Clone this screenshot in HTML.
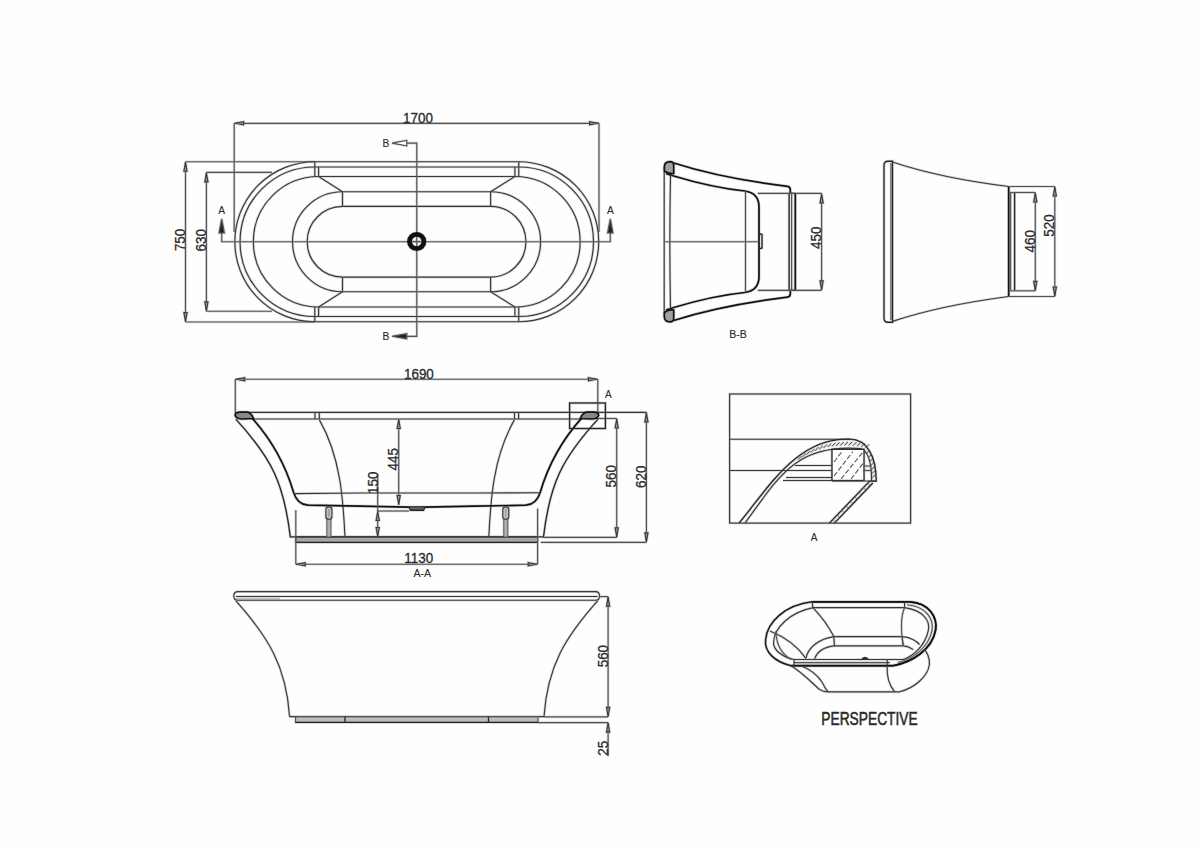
<!DOCTYPE html>
<html><head><meta charset="utf-8">
<style>
html,body{margin:0;padding:0;background:#fff;}
body{width:1200px;height:846px;overflow:hidden;}
svg{display:block;font-family:"Liberation Sans", sans-serif;}
</style></head>
<body>
<svg width="1200" height="846" viewBox="0 0 1200 846">
<rect x="0" y="0" width="1200" height="846" fill="#fefefe"/>
<g>
<line x1="234.20" y1="123.30" x2="599.00" y2="123.30" stroke="#d6d6d6" stroke-width="2.65"/>
<line x1="234.20" y1="123.30" x2="234.20" y2="232.00" stroke="#d6d6d6" stroke-width="2.65"/>
<line x1="599.00" y1="123.30" x2="599.00" y2="232.00" stroke="#d6d6d6" stroke-width="2.65"/>
<path d="M234.60 123.30 L243.60 121.70 L243.60 124.90 Z" fill="#d6d6d6" stroke="#d6d6d6" stroke-width="2.65" />
<path d="M598.60 123.30 L589.60 121.70 L589.60 124.90 Z" fill="#d6d6d6" stroke="#d6d6d6" stroke-width="2.65" />
<line x1="185.50" y1="161.75" x2="314.80" y2="161.75" stroke="#d6d6d6" stroke-width="2.65"/>
<line x1="185.50" y1="322.00" x2="314.80" y2="322.00" stroke="#d6d6d6" stroke-width="2.65"/>
<line x1="185.50" y1="161.75" x2="185.50" y2="322.00" stroke="#d6d6d6" stroke-width="2.65"/>
<path d="M185.50 162.20 L183.90 171.20 L187.10 171.20 Z" fill="#d6d6d6" stroke="#d6d6d6" stroke-width="2.65" />
<path d="M185.50 321.60 L183.90 312.60 L187.10 312.60 Z" fill="#d6d6d6" stroke="#d6d6d6" stroke-width="2.65" />
<line x1="206.40" y1="172.30" x2="272.00" y2="172.30" stroke="#d6d6d6" stroke-width="2.65"/>
<line x1="206.40" y1="311.25" x2="272.00" y2="311.25" stroke="#d6d6d6" stroke-width="2.65"/>
<line x1="206.40" y1="172.30" x2="206.40" y2="311.25" stroke="#d6d6d6" stroke-width="2.65"/>
<path d="M206.40 172.80 L204.80 181.80 L208.00 181.80 Z" fill="#d6d6d6" stroke="#d6d6d6" stroke-width="2.65" />
<path d="M206.40 310.80 L204.80 301.80 L208.00 301.80 Z" fill="#d6d6d6" stroke="#d6d6d6" stroke-width="2.65" />
<path d="M314.8 161.75 L518.75 161.75 A80.0 80.0 0 0 1 518.75 321.75 L314.8 321.75 A80.0 80.0 0 0 1 314.8 161.75 Z" fill="none" stroke="#d6d6d6" stroke-width="2.65" />
<path d="M314.8 167.0 L518.75 167.0 A74.75 74.75 0 0 1 518.75 316.5 L314.8 316.5 A74.75 74.75 0 0 1 314.8 167.0 Z" fill="none" stroke="#d6d6d6" stroke-width="2.65" />
<path d="M318.6 176.5 L514.9 176.5 A65.25 65.25 0 0 1 514.9 307.0 L318.6 307.0 A65.25 65.25 0 0 1 318.6 176.5 Z" fill="none" stroke="#d6d6d6" stroke-width="2.65" />
<line x1="314.80" y1="161.75" x2="314.80" y2="176.50" stroke="#d6d6d6" stroke-width="2.65"/>
<line x1="314.80" y1="321.75" x2="314.80" y2="307.00" stroke="#d6d6d6" stroke-width="2.65"/>
<line x1="518.75" y1="161.75" x2="518.75" y2="176.50" stroke="#d6d6d6" stroke-width="2.65"/>
<line x1="518.75" y1="321.75" x2="518.75" y2="307.00" stroke="#d6d6d6" stroke-width="2.65"/>
<line x1="318.60" y1="167.00" x2="318.60" y2="176.50" stroke="#d6d6d6" stroke-width="2.65"/>
<line x1="318.60" y1="316.50" x2="318.60" y2="307.00" stroke="#d6d6d6" stroke-width="2.65"/>
<line x1="514.90" y1="167.00" x2="514.90" y2="176.50" stroke="#d6d6d6" stroke-width="2.65"/>
<line x1="514.90" y1="316.50" x2="514.90" y2="307.00" stroke="#d6d6d6" stroke-width="2.65"/>
<path d="M318.6 176.5 L342.5 191.75 M318.6 307.0 L342.5 291.75" fill="none" stroke="#d6d6d6" stroke-width="2.65" />
<path d="M514.9 176.5 L490.6 191.75 M514.9 307.0 L490.6 291.75" fill="none" stroke="#d6d6d6" stroke-width="2.65" />
<path d="M342.5 191.75 L490.6 191.75 A50.0 50.0 0 0 1 490.6 291.75 L342.5 291.75 A50.0 50.0 0 0 1 342.5 191.75 Z" fill="none" stroke="#d6d6d6" stroke-width="2.65" />
<path d="M342.5 206.4 L490.6 206.4 A35.35 35.35 0 0 1 490.6 277.1 L342.5 277.1 A35.35 35.35 0 0 1 342.5 206.4 Z" fill="none" stroke="#d6d6d6" stroke-width="2.65" />
<line x1="342.50" y1="191.75" x2="342.50" y2="206.40" stroke="#d6d6d6" stroke-width="2.65"/>
<line x1="342.50" y1="291.75" x2="342.50" y2="277.10" stroke="#d6d6d6" stroke-width="2.65"/>
<line x1="490.60" y1="191.75" x2="490.60" y2="206.40" stroke="#d6d6d6" stroke-width="2.65"/>
<line x1="490.60" y1="291.75" x2="490.60" y2="277.10" stroke="#d6d6d6" stroke-width="2.65"/>
<path d="M221.7 233 L221.7 241.75 L610.3 241.75 L610.3 233" fill="none" stroke="#d6d6d6" stroke-width="2.65" />
<path d="M221.7 218.8 L219.0 233 L224.4 233 Z" fill="#d6d6d6" stroke="#d6d6d6" stroke-width="2.65" />
<path d="M610.3 218.8 L607.6 233 L613.0 233 Z" fill="#d6d6d6" stroke="#d6d6d6" stroke-width="2.65" />
<path d="M406.7 143.1 L416.8 143.1 L416.8 336.3 L406.7 336.3" fill="none" stroke="#d6d6d6" stroke-width="2.65" />
<path d="M392 143.1 L406.7 140.5 L406.7 145.7 Z" fill="#fff" stroke="#d6d6d6" stroke-width="2.65" />
<path d="M392 336.3 L406.7 333.7 L406.7 338.9 Z" fill="#d6d6d6" stroke="#d6d6d6" stroke-width="2.65" />
<circle cx="416.7" cy="241.5" r="7.2" fill="none" stroke="#d6d6d6" stroke-width="6.30"/>
<line x1="413.00" y1="241.50" x2="420.40" y2="241.50" stroke="#d6d6d6" stroke-width="2.65"/>
<path d="M673.7 163 Q721.5 178.3 787.5 186.3 Q790.3 186.7 790.3 190 L790.3 193.4" fill="none" stroke="#d6d6d6" stroke-width="3.20" />
<path d="M673.7 320.5 Q721.5 305.2 787.5 297.2 Q790.3 296.8 790.3 293.5 L790.3 290.3" fill="none" stroke="#d6d6d6" stroke-width="3.20" />
<path d="M666 173.4 Q669 174.5 673.7 176 Q713 187.8 744.8 191 Q759 193 759 207 L759 276.5 Q759 290.5 744.8 292.5 Q713 295.7 673.7 307.5 Q669 309 666 310.1" fill="none" stroke="#d6d6d6" stroke-width="3.20" />
<line x1="664.20" y1="172.00" x2="664.20" y2="312.00" stroke="#d6d6d6" stroke-width="2.65"/>
<path d="M670.5 175 Q669.2 241.75 670.5 308.5" fill="none" stroke="#d6d6d6" stroke-width="2.65" />
<line x1="745.50" y1="191.00" x2="745.50" y2="292.50" stroke="#d6d6d6" stroke-width="2.65"/>
<line x1="664.20" y1="241.75" x2="759.00" y2="241.75" stroke="#d6d6d6" stroke-width="2.65"/>
<path d="M664.3 171 L664.3 167 Q664.5 161.6 670 161.6 Q673.7 161.8 673.7 165 L673.7 173.5 Q668 174 664.3 171 Z" fill="#d6d6d6" stroke="#d6d6d6" stroke-width="3.20" />
<path d="M664.3 312.5 L664.3 316.5 Q664.5 321.9 670 321.9 Q673.7 321.7 673.7 318.5 L673.7 310 Q668 309.5 664.3 312.5 Z" fill="#d6d6d6" stroke="#d6d6d6" stroke-width="3.20" />
<path d="M759 233.5 L762 234.5 L762 248 L759 249" fill="none" stroke="#d6d6d6" stroke-width="2.85" />
<line x1="789.10" y1="193.40" x2="789.10" y2="290.30" stroke="#d6d6d6" stroke-width="2.85"/>
<line x1="791.60" y1="193.40" x2="791.60" y2="290.30" stroke="#d6d6d6" stroke-width="2.65"/>
<line x1="795.30" y1="193.40" x2="795.30" y2="290.30" stroke="#d6d6d6" stroke-width="3.20"/>
<line x1="789.10" y1="193.40" x2="795.30" y2="193.40" stroke="#d6d6d6" stroke-width="2.85"/>
<line x1="789.10" y1="290.30" x2="795.30" y2="290.30" stroke="#d6d6d6" stroke-width="2.85"/>
<line x1="757.70" y1="193.40" x2="821.60" y2="193.40" stroke="#d6d6d6" stroke-width="2.65"/>
<line x1="757.70" y1="290.30" x2="821.60" y2="290.30" stroke="#d6d6d6" stroke-width="2.65"/>
<line x1="821.60" y1="193.40" x2="821.60" y2="290.30" stroke="#d6d6d6" stroke-width="2.65"/>
<path d="M821.60 193.90 L820.00 202.90 L823.20 202.90 Z" fill="#d6d6d6" stroke="#d6d6d6" stroke-width="2.65" />
<path d="M821.60 289.80 L820.00 280.80 L823.20 280.80 Z" fill="#d6d6d6" stroke="#d6d6d6" stroke-width="2.65" />
<path d="M888 161.2 Q884 161.2 884 165.2 L884 318.2 Q884 322.2 888 322.2 L892.5 322.2 L892.5 161.2 Z" fill="none" stroke="#d6d6d6" stroke-width="2.85" />
<line x1="891.00" y1="163.00" x2="891.00" y2="320.00" stroke="#d6d6d6" stroke-width="2.65"/>
<path d="M892.5 162 Q940 178 1008.7 186.5" fill="none" stroke="#d6d6d6" stroke-width="2.65" />
<path d="M892.5 321.4 Q940 305.5 1008.7 296.5" fill="none" stroke="#d6d6d6" stroke-width="2.65" />
<line x1="1008.70" y1="186.50" x2="1008.70" y2="296.50" stroke="#d6d6d6" stroke-width="3.20"/>
<line x1="1010.60" y1="192.50" x2="1010.60" y2="290.80" stroke="#d6d6d6" stroke-width="2.65"/>
<line x1="1014.60" y1="192.50" x2="1014.60" y2="290.80" stroke="#d6d6d6" stroke-width="2.85"/>
<line x1="1008.70" y1="186.50" x2="1054.80" y2="186.50" stroke="#d6d6d6" stroke-width="2.65"/>
<line x1="1008.70" y1="296.50" x2="1054.80" y2="296.50" stroke="#d6d6d6" stroke-width="2.65"/>
<line x1="1054.80" y1="186.50" x2="1054.80" y2="296.50" stroke="#d6d6d6" stroke-width="2.65"/>
<path d="M1054.80 187.00 L1053.20 196.00 L1056.40 196.00 Z" fill="#d6d6d6" stroke="#d6d6d6" stroke-width="2.65" />
<path d="M1054.80 296.00 L1053.20 287.00 L1056.40 287.00 Z" fill="#d6d6d6" stroke="#d6d6d6" stroke-width="2.65" />
<line x1="1010.00" y1="192.50" x2="1035.30" y2="192.50" stroke="#d6d6d6" stroke-width="2.65"/>
<line x1="1010.00" y1="290.80" x2="1035.30" y2="290.80" stroke="#d6d6d6" stroke-width="2.65"/>
<line x1="1035.30" y1="192.50" x2="1035.30" y2="290.80" stroke="#d6d6d6" stroke-width="2.65"/>
<path d="M1035.30 193.00 L1033.70 202.00 L1036.90 202.00 Z" fill="#d6d6d6" stroke="#d6d6d6" stroke-width="2.65" />
<path d="M1035.30 290.30 L1033.70 281.30 L1036.90 281.30 Z" fill="#d6d6d6" stroke="#d6d6d6" stroke-width="2.65" />
<line x1="235.30" y1="379.20" x2="597.80" y2="379.20" stroke="#d6d6d6" stroke-width="2.65"/>
<line x1="235.30" y1="379.20" x2="235.30" y2="413.00" stroke="#d6d6d6" stroke-width="2.65"/>
<line x1="597.80" y1="379.20" x2="597.80" y2="413.00" stroke="#d6d6d6" stroke-width="2.65"/>
<path d="M235.70 379.20 L244.70 377.60 L244.70 380.80 Z" fill="#d6d6d6" stroke="#d6d6d6" stroke-width="2.65" />
<path d="M597.40 379.20 L588.40 377.60 L588.40 380.80 Z" fill="#d6d6d6" stroke="#d6d6d6" stroke-width="2.65" />
<line x1="240.00" y1="412.40" x2="646.40" y2="412.40" stroke="#d6d6d6" stroke-width="2.65"/>
<line x1="252.00" y1="419.00" x2="582.00" y2="419.00" stroke="#d6d6d6" stroke-width="2.65"/>
<line x1="596.00" y1="418.50" x2="616.70" y2="418.50" stroke="#d6d6d6" stroke-width="2.65"/>
<line x1="315.00" y1="412.40" x2="315.00" y2="419.00" stroke="#d6d6d6" stroke-width="2.65"/>
<line x1="319.30" y1="412.40" x2="319.30" y2="419.00" stroke="#d6d6d6" stroke-width="2.65"/>
<line x1="514.50" y1="412.40" x2="514.50" y2="419.00" stroke="#d6d6d6" stroke-width="2.65"/>
<line x1="518.60" y1="412.40" x2="518.60" y2="419.00" stroke="#d6d6d6" stroke-width="2.65"/>
<path d="M319.4 419.9 C340.8 457.2 343.2 500.5 345.0 537.0" fill="none" stroke="#d6d6d6" stroke-width="2.65" />
<path d="M 514.40 419.90 C 493.00 457.20 490.60 500.50 488.80 537.00" fill="none" stroke="#d6d6d6" stroke-width="2.65" />
<path d="M235.8 419.1 C272.1 458.8 284.0 483.6 290.4 537.5" fill="none" stroke="#d6d6d6" stroke-width="2.85" />
<path d="M 598.00 419.10 C 561.70 458.80 549.80 483.60 543.40 537.50" fill="none" stroke="#d6d6d6" stroke-width="2.85" />
<path d="M251.5 417.4 C271.0 438.9 285.5 464.8 293.7 492.7 Q297.5 504.5 308 505.2 L360 506.2 L409 507.2 L425 507.2 L474 506.2 L525.8 505.2 Q536.3 504.5 540.1 492.7 C548.3 464.8 562.8 438.9 582.3 417.4" fill="none" stroke="#d6d6d6" stroke-width="3.20" />
<path d="M293.7 493.6 L360 493.0 L474 493.0 L540.1 492.7" fill="none" stroke="#d6d6d6" stroke-width="2.65" />
<path d="M235.2 415.5 Q235 412.2 240 412.2 L247 412.2 Q251 412.5 253.5 418.5 L242 419 Q236.5 419 235.2 415.5 Z" fill="#d6d6d6" stroke="#d6d6d6" stroke-width="3.20" />
<path d="M598.6 415.5 Q598.8 412.2 593.8 412.2 L586.8 412.2 Q582.8 412.5 580.3 418.5 L591.8 419 Q597.3 419 598.6 415.5 Z" fill="#d6d6d6" stroke="#d6d6d6" stroke-width="3.20" />
<path d="M409 507.2 L410.5 510.2 L423.5 510.2 L425 507.2" fill="#d6d6d6" stroke="#d6d6d6" stroke-width="2.85" />
<line x1="377.70" y1="511.00" x2="409.00" y2="511.00" stroke="#d6d6d6" stroke-width="2.65"/>
<rect x="295.80" y="536.90" width="241.80" height="5.50" rx="0" fill="#d6d6d6" stroke="#d6d6d6" stroke-width="2.65"/>
<line x1="290.40" y1="536.90" x2="543.50" y2="536.90" stroke="#d6d6d6" stroke-width="2.85"/>
<line x1="295.80" y1="542.40" x2="537.60" y2="542.40" stroke="#d6d6d6" stroke-width="2.85"/>
<rect x="326.90" y="519.00" width="4.00" height="18.00" rx="0" fill="#d6d6d6" stroke="#d6d6d6" stroke-width="2.40"/>
<rect x="325.90" y="506.80" width="6.00" height="12.40" rx="2.6" fill="#d6d6d6" stroke="#d6d6d6" stroke-width="2.65"/>
<line x1="328.90" y1="509.00" x2="328.90" y2="517.00" stroke="#d6d6d6" stroke-width="2.90"/>
<rect x="503.80" y="519.00" width="4.00" height="18.00" rx="0" fill="#d6d6d6" stroke="#d6d6d6" stroke-width="2.40"/>
<rect x="502.80" y="506.80" width="6.00" height="12.40" rx="2.6" fill="#d6d6d6" stroke="#d6d6d6" stroke-width="2.65"/>
<line x1="505.80" y1="509.00" x2="505.80" y2="517.00" stroke="#d6d6d6" stroke-width="2.90"/>
<line x1="295.80" y1="510.00" x2="295.80" y2="564.20" stroke="#d6d6d6" stroke-width="2.65"/>
<line x1="537.60" y1="508.60" x2="537.60" y2="564.20" stroke="#d6d6d6" stroke-width="2.65"/>
<line x1="295.80" y1="564.20" x2="537.60" y2="564.20" stroke="#d6d6d6" stroke-width="2.65"/>
<path d="M296.20 564.20 L305.20 562.60 L305.20 565.80 Z" fill="#d6d6d6" stroke="#d6d6d6" stroke-width="2.65" />
<path d="M537.20 564.20 L528.20 562.60 L528.20 565.80 Z" fill="#d6d6d6" stroke="#d6d6d6" stroke-width="2.65" />
<line x1="398.70" y1="419.00" x2="398.70" y2="505.00" stroke="#d6d6d6" stroke-width="2.65"/>
<path d="M398.70 419.50 L397.10 428.50 L400.30 428.50 Z" fill="#d6d6d6" stroke="#d6d6d6" stroke-width="2.65" />
<path d="M398.70 504.50 L397.10 495.50 L400.30 495.50 Z" fill="#d6d6d6" stroke="#d6d6d6" stroke-width="2.65" />
<line x1="377.70" y1="474.00" x2="377.70" y2="537.00" stroke="#d6d6d6" stroke-width="2.65"/>
<path d="M377.70 511.50 L376.10 520.50 L379.30 520.50 Z" fill="#d6d6d6" stroke="#d6d6d6" stroke-width="2.65" />
<path d="M377.70 536.50 L376.10 527.50 L379.30 527.50 Z" fill="#d6d6d6" stroke="#d6d6d6" stroke-width="2.65" />
<line x1="616.70" y1="418.50" x2="616.70" y2="537.40" stroke="#d6d6d6" stroke-width="2.65"/>
<line x1="543.50" y1="537.40" x2="616.70" y2="537.40" stroke="#d6d6d6" stroke-width="2.65"/>
<path d="M616.70 419.00 L615.10 428.00 L618.30 428.00 Z" fill="#d6d6d6" stroke="#d6d6d6" stroke-width="2.65" />
<path d="M616.70 536.90 L615.10 527.90 L618.30 527.90 Z" fill="#d6d6d6" stroke="#d6d6d6" stroke-width="2.65" />
<line x1="646.40" y1="412.40" x2="646.40" y2="542.30" stroke="#d6d6d6" stroke-width="2.65"/>
<line x1="540.80" y1="542.30" x2="646.40" y2="542.30" stroke="#d6d6d6" stroke-width="2.65"/>
<path d="M646.40 412.90 L644.80 421.90 L648.00 421.90 Z" fill="#d6d6d6" stroke="#d6d6d6" stroke-width="2.65" />
<path d="M646.40 541.80 L644.80 532.80 L648.00 532.80 Z" fill="#d6d6d6" stroke="#d6d6d6" stroke-width="2.65" />
<rect x="569.60" y="403.00" width="35.80" height="25.50" rx="0" fill="none" stroke="#d6d6d6" stroke-width="2.85"/>
<path d="M238 591.6 L595.5 591.6 Q599.5 591.6 599.5 595.9 Q599.5 600.2 595.5 600.2 L238 600.2 Q233.8 600.2 233.8 595.9 Q233.8 591.6 238 591.6 Z" fill="none" stroke="#d6d6d6" stroke-width="2.65" />
<line x1="236.00" y1="596.50" x2="597.50" y2="596.50" stroke="#d6d6d6" stroke-width="2.65"/>
<line x1="236.00" y1="599.00" x2="280.00" y2="599.00" stroke="#d6d6d6" stroke-width="2.30"/>
<path d="M235.8 600.7 C268.5 637.4 286.2 666.3 289.6 716.6" fill="none" stroke="#d6d6d6" stroke-width="2.65" />
<path d="M 597.80 600.70 C 565.10 637.40 547.40 666.30 544.00 716.60" fill="none" stroke="#d6d6d6" stroke-width="2.65" />
<line x1="289.60" y1="716.60" x2="544.00" y2="716.60" stroke="#d6d6d6" stroke-width="2.65"/>
<rect x="295.60" y="716.80" width="242.40" height="5.60" rx="0" fill="#d6d6d6" stroke="#d6d6d6" stroke-width="2.65"/>
<line x1="295.60" y1="722.40" x2="538.00" y2="722.40" stroke="#d6d6d6" stroke-width="2.85"/>
<line x1="345.00" y1="716.80" x2="345.00" y2="722.40" stroke="#d6d6d6" stroke-width="2.85"/>
<line x1="488.50" y1="716.80" x2="488.50" y2="722.40" stroke="#d6d6d6" stroke-width="2.85"/>
<line x1="599.50" y1="596.60" x2="608.10" y2="596.60" stroke="#d6d6d6" stroke-width="2.65"/>
<line x1="544.00" y1="716.80" x2="608.10" y2="716.80" stroke="#d6d6d6" stroke-width="2.65"/>
<line x1="608.10" y1="596.60" x2="608.10" y2="716.80" stroke="#d6d6d6" stroke-width="2.65"/>
<path d="M608.10 597.10 L606.50 606.10 L609.70 606.10 Z" fill="#d6d6d6" stroke="#d6d6d6" stroke-width="2.65" />
<path d="M608.10 716.30 L606.50 707.30 L609.70 707.30 Z" fill="#d6d6d6" stroke="#d6d6d6" stroke-width="2.65" />
<line x1="538.00" y1="722.60" x2="608.10" y2="722.60" stroke="#d6d6d6" stroke-width="2.65"/>
<line x1="608.10" y1="722.60" x2="608.10" y2="756.20" stroke="#d6d6d6" stroke-width="2.65"/>
<path d="M608.10 723.10 L606.50 732.10 L609.70 732.10 Z" fill="#d6d6d6" stroke="#d6d6d6" stroke-width="2.65" />
<rect x="729.60" y="394.00" width="181.00" height="129.10" rx="0" fill="none" stroke="#d6d6d6" stroke-width="2.65"/>
<line x1="729.60" y1="439.20" x2="850.00" y2="439.20" stroke="#d6d6d6" stroke-width="2.65"/>
<line x1="729.60" y1="470.50" x2="832.00" y2="470.50" stroke="#d6d6d6" stroke-width="2.65"/>
<path d="M739.0 523.1 C768.4 488.1 796.9 437.2 850.0 439.2 C867 439.6 876.2 456 876.2 481.1 L869.7 481.1" fill="none" stroke="#d6d6d6" stroke-width="2.85" />
<path d="M745.0 523.1 C779.5 475.7 796.6 443.8 860.0 448.5 C867 450 871.6 460 871.6 481.1" fill="none" stroke="#d6d6d6" stroke-width="2.65" />
<line x1="798.20" y1="459.49" x2="801.80" y2="455.89" stroke="#d6d6d6" stroke-width="2.40"/>
<line x1="802.40" y1="456.89" x2="806.00" y2="453.29" stroke="#d6d6d6" stroke-width="2.40"/>
<line x1="806.60" y1="454.53" x2="810.20" y2="450.93" stroke="#d6d6d6" stroke-width="2.40"/>
<line x1="810.80" y1="452.46" x2="814.40" y2="448.86" stroke="#d6d6d6" stroke-width="2.40"/>
<line x1="815.00" y1="450.76" x2="818.60" y2="447.16" stroke="#d6d6d6" stroke-width="2.40"/>
<line x1="819.20" y1="449.28" x2="822.80" y2="445.68" stroke="#d6d6d6" stroke-width="2.40"/>
<line x1="823.40" y1="448.11" x2="827.00" y2="444.51" stroke="#d6d6d6" stroke-width="2.40"/>
<line x1="827.60" y1="447.14" x2="831.20" y2="443.54" stroke="#d6d6d6" stroke-width="2.40"/>
<line x1="831.80" y1="446.40" x2="835.40" y2="442.80" stroke="#d6d6d6" stroke-width="2.40"/>
<line x1="836.00" y1="445.88" x2="839.60" y2="442.28" stroke="#d6d6d6" stroke-width="2.40"/>
<line x1="840.20" y1="445.55" x2="843.80" y2="441.95" stroke="#d6d6d6" stroke-width="2.40"/>
<line x1="844.40" y1="445.40" x2="848.00" y2="441.80" stroke="#d6d6d6" stroke-width="2.40"/>
<line x1="848.60" y1="445.46" x2="852.20" y2="441.86" stroke="#d6d6d6" stroke-width="2.40"/>
<line x1="852.80" y1="445.79" x2="856.40" y2="442.19" stroke="#d6d6d6" stroke-width="2.40"/>
<line x1="857.00" y1="446.17" x2="860.60" y2="442.57" stroke="#d6d6d6" stroke-width="2.40"/>
<line x1="861.20" y1="446.93" x2="864.80" y2="443.33" stroke="#d6d6d6" stroke-width="2.40"/>
<line x1="865.40" y1="448.00" x2="869.00" y2="444.40" stroke="#d6d6d6" stroke-width="2.40"/>
<line x1="865.95" y1="453.80" x2="869.55" y2="450.20" stroke="#d6d6d6" stroke-width="2.40"/>
<line x1="868.13" y1="457.80" x2="871.73" y2="454.20" stroke="#d6d6d6" stroke-width="2.40"/>
<line x1="869.56" y1="461.80" x2="873.16" y2="458.20" stroke="#d6d6d6" stroke-width="2.40"/>
<line x1="870.56" y1="465.80" x2="874.16" y2="462.20" stroke="#d6d6d6" stroke-width="2.40"/>
<line x1="871.26" y1="469.80" x2="874.86" y2="466.20" stroke="#d6d6d6" stroke-width="2.40"/>
<line x1="871.71" y1="473.80" x2="875.31" y2="470.20" stroke="#d6d6d6" stroke-width="2.40"/>
<line x1="871.98" y1="477.80" x2="875.58" y2="474.20" stroke="#d6d6d6" stroke-width="2.40"/>
<rect x="832.00" y="449.30" width="32.00" height="31.20" rx="0" fill="#fff" stroke="#d6d6d6" stroke-width="2.85"/>
<path d="M834 462 L842 451.5" fill="none" stroke="#d6d6d6" stroke-width="2.60" stroke-dasharray="5 2.2"/>
<path d="M834 476 L853 451.5" fill="none" stroke="#d6d6d6" stroke-width="2.60" stroke-dasharray="5 2.2"/>
<path d="M841 479 L863 452" fill="none" stroke="#d6d6d6" stroke-width="2.60" stroke-dasharray="5 2.2"/>
<path d="M851 479 L863 463.5" fill="none" stroke="#d6d6d6" stroke-width="2.60" stroke-dasharray="5 2.2"/>
<line x1="795.00" y1="465.50" x2="832.00" y2="465.50" stroke="#d6d6d6" stroke-width="2.65"/>
<line x1="786.00" y1="477.50" x2="832.00" y2="477.50" stroke="#d6d6d6" stroke-width="2.65"/>
<line x1="783.00" y1="480.50" x2="832.00" y2="480.50" stroke="#d6d6d6" stroke-width="2.65"/>
<line x1="832.00" y1="481.00" x2="876.20" y2="481.00" stroke="#d6d6d6" stroke-width="2.65"/>
<line x1="863.50" y1="466.00" x2="871.60" y2="466.00" stroke="#d6d6d6" stroke-width="2.65"/>
<line x1="863.50" y1="470.50" x2="871.60" y2="470.50" stroke="#d6d6d6" stroke-width="2.65"/>
<path d="M829.4 523.1 L869.7 481.1" fill="none" stroke="#d6d6d6" stroke-width="2.85" />
<path d="M834.4 523.1 L872.8 483" fill="none" stroke="#d6d6d6" stroke-width="2.85" />
<line x1="832.97" y1="519.52" x2="835.37" y2="521.92" stroke="#d6d6d6" stroke-width="2.20"/>
<line x1="837.30" y1="514.97" x2="839.70" y2="517.37" stroke="#d6d6d6" stroke-width="2.20"/>
<line x1="841.63" y1="510.41" x2="844.03" y2="512.81" stroke="#d6d6d6" stroke-width="2.20"/>
<line x1="845.97" y1="505.86" x2="848.37" y2="508.26" stroke="#d6d6d6" stroke-width="2.20"/>
<line x1="850.30" y1="501.30" x2="852.70" y2="503.70" stroke="#d6d6d6" stroke-width="2.20"/>
<line x1="854.63" y1="496.74" x2="857.03" y2="499.14" stroke="#d6d6d6" stroke-width="2.20"/>
<line x1="858.97" y1="492.19" x2="861.37" y2="494.59" stroke="#d6d6d6" stroke-width="2.20"/>
<line x1="863.30" y1="487.63" x2="865.70" y2="490.03" stroke="#d6d6d6" stroke-width="2.20"/>
<line x1="867.63" y1="483.08" x2="870.03" y2="485.48" stroke="#d6d6d6" stroke-width="2.20"/>
<path d="M812.1 601.8 L909.6 601.8 C930 603 937.5 618 935.6 630 C932 650 912 662 893.4 665.7 L791 665.7 C775 662 764 652 765.6 639.7 C767 622 785 605 812.1 601.8 Z" fill="none" stroke="#d6d6d6" stroke-width="3.05" />
<path d="M813.3 607.6 L904.6 607.6 C922 610 931 620 928.2 631 C925 645 915 655 903.3 659.5 L794 659.5 C782 657 773 650 773.6 642 C774 628 790 612 813.3 607.6 Z" fill="none" stroke="#d6d6d6" stroke-width="2.65" />
<line x1="794.00" y1="662.60" x2="890.00" y2="662.60" stroke="#d6d6d6" stroke-width="2.65"/>
<line x1="812.10" y1="601.80" x2="909.60" y2="601.80" stroke="#d6d6d6" stroke-width="3.20"/>
<line x1="791.00" y1="665.70" x2="893.40" y2="665.70" stroke="#d6d6d6" stroke-width="3.20"/>
<path d="M909.6 601.8 C930 603 937.5 618 935.6 630 C932 650 912 662 893.4 665.7" fill="none" stroke="#d6d6d6" stroke-width="3.20" />
<path d="M907 604.8 C926 606.5 934 619 932 630.5 C928.5 647.5 913.5 658.5 898 662.6" fill="none" stroke="#d6d6d6" stroke-width="2.65" />
<line x1="794.10" y1="659.50" x2="794.10" y2="665.70" stroke="#d6d6d6" stroke-width="2.65"/>
<line x1="887.20" y1="659.50" x2="887.20" y2="665.70" stroke="#d6d6d6" stroke-width="2.65"/>
<line x1="812.10" y1="601.80" x2="812.90" y2="607.60" stroke="#d6d6d6" stroke-width="2.65"/>
<line x1="904.60" y1="601.80" x2="904.60" y2="607.60" stroke="#d6d6d6" stroke-width="2.65"/>
<path d="M805.9 658.3 C808 648 818 639 833.8 636.6 L902.1 636.6 C910 637 917 641 919.5 644.6" fill="none" stroke="#d6d6d6" stroke-width="2.65" />
<path d="M814.6 658.9 C817 652 824 647 834.4 645.9 L903.3 645.9 C907 646 911 648 913.3 649.6" fill="none" stroke="#d6d6d6" stroke-width="2.65" />
<line x1="833.80" y1="636.60" x2="834.40" y2="645.90" stroke="#d6d6d6" stroke-width="2.65"/>
<line x1="902.10" y1="636.60" x2="903.30" y2="645.90" stroke="#d6d6d6" stroke-width="2.65"/>
<path d="M812.9 607.6 C820 615 828 625 833.8 636.6" fill="none" stroke="#d6d6d6" stroke-width="2.65" />
<path d="M904.6 607.6 C900 618 901 632 903.3 645.9" fill="none" stroke="#d6d6d6" stroke-width="2.65" />
<path d="M769.9 631 C785 637 798 647 805.9 658.3" fill="none" stroke="#d6d6d6" stroke-width="2.65" />
<path d="M776 631 C776 645 782 654 791 659.5" fill="none" stroke="#d6d6d6" stroke-width="2.65" />
<path d="M791 665.7 C803 673 812 683 819.6 689.5 C822 691.2 825 691.8 828.2 691.8 L899.6 691.8 C915 688 928 676 929.4 664.5 C929.8 658 927 652 924.4 649.6" fill="none" stroke="#d6d6d6" stroke-width="2.65" />
<path d="M801 665.7 C812 670 818 676 822 682 C824 686 826 690 828.2 691.8" fill="none" stroke="#d6d6d6" stroke-width="2.65" />
<path d="M887.2 665.7 C886.5 676 889 685 894.7 691.8" fill="none" stroke="#d6d6d6" stroke-width="2.65" />
<path d="M862.5 658.8 Q865 656.5 867.5 658.8 Z" fill="#d6d6d6" stroke="#d6d6d6" stroke-width="2.85" />
</g>
<g>
<line x1="234.20" y1="123.30" x2="599.00" y2="123.30" stroke="#545454" stroke-width="1.15"/>
<line x1="234.20" y1="123.30" x2="234.20" y2="232.00" stroke="#545454" stroke-width="1.15"/>
<line x1="599.00" y1="123.30" x2="599.00" y2="232.00" stroke="#545454" stroke-width="1.15"/>
<path d="M234.60 123.30 L243.60 121.70 L243.60 124.90 Z" fill="#9a9a9a" stroke="#3a3a3a" stroke-width="1.15" />
<path d="M598.60 123.30 L589.60 121.70 L589.60 124.90 Z" fill="#9a9a9a" stroke="#3a3a3a" stroke-width="1.15" />
<text x="418" y="123.01" font-size="14.0" text-anchor="middle" fill="#2a2a2a" stroke="#2a2a2a" stroke-width="0.3" font-weight="normal" transform="translate(418 0) scale(0.96 1) translate(-418 0)">1700</text>
<line x1="185.50" y1="161.75" x2="314.80" y2="161.75" stroke="#545454" stroke-width="1.15"/>
<line x1="185.50" y1="322.00" x2="314.80" y2="322.00" stroke="#545454" stroke-width="1.15"/>
<line x1="185.50" y1="161.75" x2="185.50" y2="322.00" stroke="#545454" stroke-width="1.15"/>
<path d="M185.50 162.20 L183.90 171.20 L187.10 171.20 Z" fill="#9a9a9a" stroke="#3a3a3a" stroke-width="1.15" />
<path d="M185.50 321.60 L183.90 312.60 L187.10 312.60 Z" fill="#9a9a9a" stroke="#3a3a3a" stroke-width="1.15" />
<text x="180.5" y="244.91" font-size="14.0" text-anchor="middle" fill="#2a2a2a" stroke="#2a2a2a" stroke-width="0.3" font-weight="normal" transform="rotate(-90 180.5 239.9) translate(180.5 0) scale(0.96 1) translate(-180.5 0)">750</text>
<line x1="206.40" y1="172.30" x2="272.00" y2="172.30" stroke="#545454" stroke-width="1.15"/>
<line x1="206.40" y1="311.25" x2="272.00" y2="311.25" stroke="#545454" stroke-width="1.15"/>
<line x1="206.40" y1="172.30" x2="206.40" y2="311.25" stroke="#545454" stroke-width="1.15"/>
<path d="M206.40 172.80 L204.80 181.80 L208.00 181.80 Z" fill="#9a9a9a" stroke="#3a3a3a" stroke-width="1.15" />
<path d="M206.40 310.80 L204.80 301.80 L208.00 301.80 Z" fill="#9a9a9a" stroke="#3a3a3a" stroke-width="1.15" />
<text x="201.1" y="245.31" font-size="14.0" text-anchor="middle" fill="#2a2a2a" stroke="#2a2a2a" stroke-width="0.3" font-weight="normal" transform="rotate(-90 201.1 240.3) translate(201.1 0) scale(0.96 1) translate(-201.1 0)">630</text>
<path d="M314.8 161.75 L518.75 161.75 A80.0 80.0 0 0 1 518.75 321.75 L314.8 321.75 A80.0 80.0 0 0 1 314.8 161.75 Z" fill="none" stroke="#3a3a3a" stroke-width="1.15" />
<path d="M314.8 167.0 L518.75 167.0 A74.75 74.75 0 0 1 518.75 316.5 L314.8 316.5 A74.75 74.75 0 0 1 314.8 167.0 Z" fill="none" stroke="#3a3a3a" stroke-width="1.15" />
<path d="M318.6 176.5 L514.9 176.5 A65.25 65.25 0 0 1 514.9 307.0 L318.6 307.0 A65.25 65.25 0 0 1 318.6 176.5 Z" fill="none" stroke="#3a3a3a" stroke-width="1.15" />
<line x1="314.80" y1="161.75" x2="314.80" y2="176.50" stroke="#3a3a3a" stroke-width="1.15"/>
<line x1="314.80" y1="321.75" x2="314.80" y2="307.00" stroke="#3a3a3a" stroke-width="1.15"/>
<line x1="518.75" y1="161.75" x2="518.75" y2="176.50" stroke="#3a3a3a" stroke-width="1.15"/>
<line x1="518.75" y1="321.75" x2="518.75" y2="307.00" stroke="#3a3a3a" stroke-width="1.15"/>
<line x1="318.60" y1="167.00" x2="318.60" y2="176.50" stroke="#3a3a3a" stroke-width="1.15"/>
<line x1="318.60" y1="316.50" x2="318.60" y2="307.00" stroke="#3a3a3a" stroke-width="1.15"/>
<line x1="514.90" y1="167.00" x2="514.90" y2="176.50" stroke="#3a3a3a" stroke-width="1.15"/>
<line x1="514.90" y1="316.50" x2="514.90" y2="307.00" stroke="#3a3a3a" stroke-width="1.15"/>
<path d="M318.6 176.5 L342.5 191.75 M318.6 307.0 L342.5 291.75" fill="none" stroke="#3a3a3a" stroke-width="1.15" />
<path d="M514.9 176.5 L490.6 191.75 M514.9 307.0 L490.6 291.75" fill="none" stroke="#3a3a3a" stroke-width="1.15" />
<path d="M342.5 191.75 L490.6 191.75 A50.0 50.0 0 0 1 490.6 291.75 L342.5 291.75 A50.0 50.0 0 0 1 342.5 191.75 Z" fill="none" stroke="#3a3a3a" stroke-width="1.15" />
<path d="M342.5 206.4 L490.6 206.4 A35.35 35.35 0 0 1 490.6 277.1 L342.5 277.1 A35.35 35.35 0 0 1 342.5 206.4 Z" fill="none" stroke="#3a3a3a" stroke-width="1.15" />
<line x1="342.50" y1="191.75" x2="342.50" y2="206.40" stroke="#3a3a3a" stroke-width="1.15"/>
<line x1="342.50" y1="291.75" x2="342.50" y2="277.10" stroke="#3a3a3a" stroke-width="1.15"/>
<line x1="490.60" y1="191.75" x2="490.60" y2="206.40" stroke="#3a3a3a" stroke-width="1.15"/>
<line x1="490.60" y1="291.75" x2="490.60" y2="277.10" stroke="#3a3a3a" stroke-width="1.15"/>
<path d="M221.7 233 L221.7 241.75 L610.3 241.75 L610.3 233" fill="none" stroke="#545454" stroke-width="1.15" />
<path d="M221.7 218.8 L219.0 233 L224.4 233 Z" fill="#222" stroke="#545454" stroke-width="1.15" />
<path d="M610.3 218.8 L607.6 233 L613.0 233 Z" fill="#222" stroke="#545454" stroke-width="1.15" />
<text x="221.7" y="214.35" font-size="10.2" text-anchor="middle" fill="#2a2a2a" stroke="#2a2a2a" stroke-width="0.12" font-weight="normal">A</text>
<text x="610.3" y="214.35" font-size="10.2" text-anchor="middle" fill="#2a2a2a" stroke="#2a2a2a" stroke-width="0.12" font-weight="normal">A</text>
<path d="M406.7 143.1 L416.8 143.1 L416.8 336.3 L406.7 336.3" fill="none" stroke="#545454" stroke-width="1.15" />
<path d="M392 143.1 L406.7 140.5 L406.7 145.7 Z" fill="#fff" stroke="#545454" stroke-width="1.15" />
<path d="M392 336.3 L406.7 333.7 L406.7 338.9 Z" fill="#222" stroke="#545454" stroke-width="1.15" />
<text x="385.9" y="146.75" font-size="10.2" text-anchor="middle" fill="#2a2a2a" stroke="#2a2a2a" stroke-width="0.12" font-weight="normal">B</text>
<text x="385.9" y="339.95" font-size="10.2" text-anchor="middle" fill="#2a2a2a" stroke="#2a2a2a" stroke-width="0.12" font-weight="normal">B</text>
<circle cx="416.7" cy="241.5" r="7.2" fill="none" stroke="#111" stroke-width="4.80"/>
<line x1="413.00" y1="241.50" x2="420.40" y2="241.50" stroke="#545454" stroke-width="1.15"/>
<path d="M673.7 163 Q721.5 178.3 787.5 186.3 Q790.3 186.7 790.3 190 L790.3 193.4" fill="none" stroke="#121212" stroke-width="1.70" />
<path d="M673.7 320.5 Q721.5 305.2 787.5 297.2 Q790.3 296.8 790.3 293.5 L790.3 290.3" fill="none" stroke="#121212" stroke-width="1.70" />
<path d="M666 173.4 Q669 174.5 673.7 176 Q713 187.8 744.8 191 Q759 193 759 207 L759 276.5 Q759 290.5 744.8 292.5 Q713 295.7 673.7 307.5 Q669 309 666 310.1" fill="none" stroke="#121212" stroke-width="1.70" />
<line x1="664.20" y1="172.00" x2="664.20" y2="312.00" stroke="#3a3a3a" stroke-width="1.15"/>
<path d="M670.5 175 Q669.2 241.75 670.5 308.5" fill="none" stroke="#3a3a3a" stroke-width="1.15" />
<line x1="745.50" y1="191.00" x2="745.50" y2="292.50" stroke="#545454" stroke-width="1.15"/>
<line x1="664.20" y1="241.75" x2="759.00" y2="241.75" stroke="#545454" stroke-width="1.15"/>
<path d="M664.3 171 L664.3 167 Q664.5 161.6 670 161.6 Q673.7 161.8 673.7 165 L673.7 173.5 Q668 174 664.3 171 Z" fill="#a0a0a0" stroke="#121212" stroke-width="1.70" />
<path d="M664.3 312.5 L664.3 316.5 Q664.5 321.9 670 321.9 Q673.7 321.7 673.7 318.5 L673.7 310 Q668 309.5 664.3 312.5 Z" fill="#a0a0a0" stroke="#121212" stroke-width="1.70" />
<path d="M759 233.5 L762 234.5 L762 248 L759 249" fill="none" stroke="#282828" stroke-width="1.35" />
<line x1="789.10" y1="193.40" x2="789.10" y2="290.30" stroke="#282828" stroke-width="1.35"/>
<line x1="791.60" y1="193.40" x2="791.60" y2="290.30" stroke="#545454" stroke-width="1.15"/>
<line x1="795.30" y1="193.40" x2="795.30" y2="290.30" stroke="#121212" stroke-width="1.70"/>
<line x1="789.10" y1="193.40" x2="795.30" y2="193.40" stroke="#282828" stroke-width="1.35"/>
<line x1="789.10" y1="290.30" x2="795.30" y2="290.30" stroke="#282828" stroke-width="1.35"/>
<line x1="757.70" y1="193.40" x2="821.60" y2="193.40" stroke="#545454" stroke-width="1.15"/>
<line x1="757.70" y1="290.30" x2="821.60" y2="290.30" stroke="#545454" stroke-width="1.15"/>
<line x1="821.60" y1="193.40" x2="821.60" y2="290.30" stroke="#545454" stroke-width="1.15"/>
<path d="M821.60 193.90 L820.00 202.90 L823.20 202.90 Z" fill="#9a9a9a" stroke="#3a3a3a" stroke-width="1.15" />
<path d="M821.60 289.80 L820.00 280.80 L823.20 280.80 Z" fill="#9a9a9a" stroke="#3a3a3a" stroke-width="1.15" />
<text x="815.7" y="242.81" font-size="14.0" text-anchor="middle" fill="#2a2a2a" stroke="#2a2a2a" stroke-width="0.3" font-weight="normal" transform="rotate(-90 815.7 237.8) translate(815.7 0) scale(0.96 1) translate(-815.7 0)">450</text>
<text x="738" y="337.76" font-size="10.5" text-anchor="middle" fill="#2a2a2a" stroke="#2a2a2a" stroke-width="0.12" font-weight="normal">B-B</text>
<path d="M888 161.2 Q884 161.2 884 165.2 L884 318.2 Q884 322.2 888 322.2 L892.5 322.2 L892.5 161.2 Z" fill="none" stroke="#282828" stroke-width="1.35" />
<line x1="891.00" y1="163.00" x2="891.00" y2="320.00" stroke="#545454" stroke-width="1.15"/>
<path d="M892.5 162 Q940 178 1008.7 186.5" fill="none" stroke="#3a3a3a" stroke-width="1.15" />
<path d="M892.5 321.4 Q940 305.5 1008.7 296.5" fill="none" stroke="#3a3a3a" stroke-width="1.15" />
<line x1="1008.70" y1="186.50" x2="1008.70" y2="296.50" stroke="#121212" stroke-width="1.70"/>
<line x1="1010.60" y1="192.50" x2="1010.60" y2="290.80" stroke="#545454" stroke-width="1.15"/>
<line x1="1014.60" y1="192.50" x2="1014.60" y2="290.80" stroke="#282828" stroke-width="1.35"/>
<line x1="1008.70" y1="186.50" x2="1054.80" y2="186.50" stroke="#545454" stroke-width="1.15"/>
<line x1="1008.70" y1="296.50" x2="1054.80" y2="296.50" stroke="#545454" stroke-width="1.15"/>
<line x1="1054.80" y1="186.50" x2="1054.80" y2="296.50" stroke="#545454" stroke-width="1.15"/>
<path d="M1054.80 187.00 L1053.20 196.00 L1056.40 196.00 Z" fill="#9a9a9a" stroke="#3a3a3a" stroke-width="1.15" />
<path d="M1054.80 296.00 L1053.20 287.00 L1056.40 287.00 Z" fill="#9a9a9a" stroke="#3a3a3a" stroke-width="1.15" />
<text x="1049.0" y="230.51" font-size="14.0" text-anchor="middle" fill="#2a2a2a" stroke="#2a2a2a" stroke-width="0.3" font-weight="normal" transform="rotate(-90 1049.0 225.5) translate(1049.0 0) scale(0.96 1) translate(-1049.0 0)">520</text>
<line x1="1010.00" y1="192.50" x2="1035.30" y2="192.50" stroke="#545454" stroke-width="1.15"/>
<line x1="1010.00" y1="290.80" x2="1035.30" y2="290.80" stroke="#545454" stroke-width="1.15"/>
<line x1="1035.30" y1="192.50" x2="1035.30" y2="290.80" stroke="#545454" stroke-width="1.15"/>
<path d="M1035.30 193.00 L1033.70 202.00 L1036.90 202.00 Z" fill="#9a9a9a" stroke="#3a3a3a" stroke-width="1.15" />
<path d="M1035.30 290.30 L1033.70 281.30 L1036.90 281.30 Z" fill="#9a9a9a" stroke="#3a3a3a" stroke-width="1.15" />
<text x="1029.5" y="246.21" font-size="14.0" text-anchor="middle" fill="#2a2a2a" stroke="#2a2a2a" stroke-width="0.3" font-weight="normal" transform="rotate(-90 1029.5 241.2) translate(1029.5 0) scale(0.96 1) translate(-1029.5 0)">460</text>
<line x1="235.30" y1="379.20" x2="597.80" y2="379.20" stroke="#545454" stroke-width="1.15"/>
<line x1="235.30" y1="379.20" x2="235.30" y2="413.00" stroke="#545454" stroke-width="1.15"/>
<line x1="597.80" y1="379.20" x2="597.80" y2="413.00" stroke="#545454" stroke-width="1.15"/>
<path d="M235.70 379.20 L244.70 377.60 L244.70 380.80 Z" fill="#9a9a9a" stroke="#3a3a3a" stroke-width="1.15" />
<path d="M597.40 379.20 L588.40 377.60 L588.40 380.80 Z" fill="#9a9a9a" stroke="#3a3a3a" stroke-width="1.15" />
<text x="418.9" y="379.41" font-size="14.0" text-anchor="middle" fill="#2a2a2a" stroke="#2a2a2a" stroke-width="0.3" font-weight="normal" transform="translate(418.9 0) scale(0.96 1) translate(-418.9 0)">1690</text>
<line x1="240.00" y1="412.40" x2="646.40" y2="412.40" stroke="#3a3a3a" stroke-width="1.15"/>
<line x1="252.00" y1="419.00" x2="582.00" y2="419.00" stroke="#3a3a3a" stroke-width="1.15"/>
<line x1="596.00" y1="418.50" x2="616.70" y2="418.50" stroke="#545454" stroke-width="1.15"/>
<line x1="315.00" y1="412.40" x2="315.00" y2="419.00" stroke="#3a3a3a" stroke-width="1.15"/>
<line x1="319.30" y1="412.40" x2="319.30" y2="419.00" stroke="#3a3a3a" stroke-width="1.15"/>
<line x1="514.50" y1="412.40" x2="514.50" y2="419.00" stroke="#3a3a3a" stroke-width="1.15"/>
<line x1="518.60" y1="412.40" x2="518.60" y2="419.00" stroke="#3a3a3a" stroke-width="1.15"/>
<path d="M319.4 419.9 C340.8 457.2 343.2 500.5 345.0 537.0" fill="none" stroke="#3a3a3a" stroke-width="1.15" />
<path d="M 514.40 419.90 C 493.00 457.20 490.60 500.50 488.80 537.00" fill="none" stroke="#3a3a3a" stroke-width="1.15" />
<path d="M235.8 419.1 C272.1 458.8 284.0 483.6 290.4 537.5" fill="none" stroke="#282828" stroke-width="1.35" />
<path d="M 598.00 419.10 C 561.70 458.80 549.80 483.60 543.40 537.50" fill="none" stroke="#282828" stroke-width="1.35" />
<path d="M251.5 417.4 C271.0 438.9 285.5 464.8 293.7 492.7 Q297.5 504.5 308 505.2 L360 506.2 L409 507.2 L425 507.2 L474 506.2 L525.8 505.2 Q536.3 504.5 540.1 492.7 C548.3 464.8 562.8 438.9 582.3 417.4" fill="none" stroke="#121212" stroke-width="1.70" />
<path d="M293.7 493.6 L360 493.0 L474 493.0 L540.1 492.7" fill="none" stroke="#3a3a3a" stroke-width="1.15" />
<path d="M235.2 415.5 Q235 412.2 240 412.2 L247 412.2 Q251 412.5 253.5 418.5 L242 419 Q236.5 419 235.2 415.5 Z" fill="#888" stroke="#121212" stroke-width="1.70" />
<path d="M598.6 415.5 Q598.8 412.2 593.8 412.2 L586.8 412.2 Q582.8 412.5 580.3 418.5 L591.8 419 Q597.3 419 598.6 415.5 Z" fill="#888" stroke="#121212" stroke-width="1.70" />
<path d="M409 507.2 L410.5 510.2 L423.5 510.2 L425 507.2" fill="#666" stroke="#282828" stroke-width="1.35" />
<line x1="377.70" y1="511.00" x2="409.00" y2="511.00" stroke="#545454" stroke-width="1.15"/>
<rect x="295.80" y="536.90" width="241.80" height="5.50" rx="0" fill="#a6a6a6" stroke="#545454" stroke-width="1.15"/>
<line x1="290.40" y1="536.90" x2="543.50" y2="536.90" stroke="#282828" stroke-width="1.35"/>
<line x1="295.80" y1="542.40" x2="537.60" y2="542.40" stroke="#282828" stroke-width="1.35"/>
<rect x="326.90" y="519.00" width="4.00" height="18.00" rx="0" fill="#b0b0b0" stroke="#555" stroke-width="0.90"/>
<rect x="325.90" y="506.80" width="6.00" height="12.40" rx="2.6" fill="#c4c4c4" stroke="#3a3a3a" stroke-width="1.15"/>
<line x1="328.90" y1="509.00" x2="328.90" y2="517.00" stroke="#999" stroke-width="1.40"/>
<rect x="503.80" y="519.00" width="4.00" height="18.00" rx="0" fill="#b0b0b0" stroke="#555" stroke-width="0.90"/>
<rect x="502.80" y="506.80" width="6.00" height="12.40" rx="2.6" fill="#c4c4c4" stroke="#3a3a3a" stroke-width="1.15"/>
<line x1="505.80" y1="509.00" x2="505.80" y2="517.00" stroke="#999" stroke-width="1.40"/>
<line x1="295.80" y1="510.00" x2="295.80" y2="564.20" stroke="#545454" stroke-width="1.15"/>
<line x1="537.60" y1="508.60" x2="537.60" y2="564.20" stroke="#545454" stroke-width="1.15"/>
<line x1="295.80" y1="564.20" x2="537.60" y2="564.20" stroke="#545454" stroke-width="1.15"/>
<path d="M296.20 564.20 L305.20 562.60 L305.20 565.80 Z" fill="#9a9a9a" stroke="#3a3a3a" stroke-width="1.15" />
<path d="M537.20 564.20 L528.20 562.60 L528.20 565.80 Z" fill="#9a9a9a" stroke="#3a3a3a" stroke-width="1.15" />
<text x="418.7" y="562.71" font-size="14.0" text-anchor="middle" fill="#2a2a2a" stroke="#2a2a2a" stroke-width="0.3" font-weight="normal" transform="translate(418.7 0) scale(0.96 1) translate(-418.7 0)">1130</text>
<text x="422.2" y="576.96" font-size="10.5" text-anchor="middle" fill="#2a2a2a" stroke="#2a2a2a" stroke-width="0.12" font-weight="normal">A-A</text>
<line x1="398.70" y1="419.00" x2="398.70" y2="505.00" stroke="#545454" stroke-width="1.15"/>
<path d="M398.70 419.50 L397.10 428.50 L400.30 428.50 Z" fill="#9a9a9a" stroke="#3a3a3a" stroke-width="1.15" />
<path d="M398.70 504.50 L397.10 495.50 L400.30 495.50 Z" fill="#9a9a9a" stroke="#3a3a3a" stroke-width="1.15" />
<text x="393.4" y="464.21" font-size="14.0" text-anchor="middle" fill="#2a2a2a" stroke="#2a2a2a" stroke-width="0.3" font-weight="normal" transform="rotate(-90 393.4 459.2) translate(393.4 0) scale(0.96 1) translate(-393.4 0)">445</text>
<line x1="377.70" y1="474.00" x2="377.70" y2="537.00" stroke="#545454" stroke-width="1.15"/>
<path d="M377.70 511.50 L376.10 520.50 L379.30 520.50 Z" fill="#9a9a9a" stroke="#3a3a3a" stroke-width="1.15" />
<path d="M377.70 536.50 L376.10 527.50 L379.30 527.50 Z" fill="#9a9a9a" stroke="#3a3a3a" stroke-width="1.15" />
<text x="372.7" y="487.81" font-size="14.0" text-anchor="middle" fill="#2a2a2a" stroke="#2a2a2a" stroke-width="0.3" font-weight="normal" transform="rotate(-90 372.7 482.8) translate(372.7 0) scale(0.96 1) translate(-372.7 0)">150</text>
<line x1="616.70" y1="418.50" x2="616.70" y2="537.40" stroke="#545454" stroke-width="1.15"/>
<line x1="543.50" y1="537.40" x2="616.70" y2="537.40" stroke="#545454" stroke-width="1.15"/>
<path d="M616.70 419.00 L615.10 428.00 L618.30 428.00 Z" fill="#9a9a9a" stroke="#3a3a3a" stroke-width="1.15" />
<path d="M616.70 536.90 L615.10 527.90 L618.30 527.90 Z" fill="#9a9a9a" stroke="#3a3a3a" stroke-width="1.15" />
<text x="611.3" y="481.21" font-size="14.0" text-anchor="middle" fill="#2a2a2a" stroke="#2a2a2a" stroke-width="0.3" font-weight="normal" transform="rotate(-90 611.3 476.2) translate(611.3 0) scale(0.96 1) translate(-611.3 0)">560</text>
<line x1="646.40" y1="412.40" x2="646.40" y2="542.30" stroke="#545454" stroke-width="1.15"/>
<line x1="540.80" y1="542.30" x2="646.40" y2="542.30" stroke="#545454" stroke-width="1.15"/>
<path d="M646.40 412.90 L644.80 421.90 L648.00 421.90 Z" fill="#9a9a9a" stroke="#3a3a3a" stroke-width="1.15" />
<path d="M646.40 541.80 L644.80 532.80 L648.00 532.80 Z" fill="#9a9a9a" stroke="#3a3a3a" stroke-width="1.15" />
<text x="641.2" y="481.81" font-size="14.0" text-anchor="middle" fill="#2a2a2a" stroke="#2a2a2a" stroke-width="0.3" font-weight="normal" transform="rotate(-90 641.2 476.8) translate(641.2 0) scale(0.96 1) translate(-641.2 0)">620</text>
<rect x="569.60" y="403.00" width="35.80" height="25.50" rx="0" fill="none" stroke="#282828" stroke-width="1.35"/>
<text x="608.3" y="398.18" font-size="10" text-anchor="middle" fill="#2a2a2a" stroke="#2a2a2a" stroke-width="0.12" font-weight="normal">A</text>
<path d="M238 591.6 L595.5 591.6 Q599.5 591.6 599.5 595.9 Q599.5 600.2 595.5 600.2 L238 600.2 Q233.8 600.2 233.8 595.9 Q233.8 591.6 238 591.6 Z" fill="none" stroke="#3a3a3a" stroke-width="1.15" />
<line x1="236.00" y1="596.50" x2="597.50" y2="596.50" stroke="#3a3a3a" stroke-width="1.15"/>
<line x1="236.00" y1="599.00" x2="280.00" y2="599.00" stroke="#999" stroke-width="0.80"/>
<path d="M235.8 600.7 C268.5 637.4 286.2 666.3 289.6 716.6" fill="none" stroke="#3a3a3a" stroke-width="1.15" />
<path d="M 597.80 600.70 C 565.10 637.40 547.40 666.30 544.00 716.60" fill="none" stroke="#3a3a3a" stroke-width="1.15" />
<line x1="289.60" y1="716.60" x2="544.00" y2="716.60" stroke="#3a3a3a" stroke-width="1.15"/>
<rect x="295.60" y="716.80" width="242.40" height="5.60" rx="0" fill="#bdbdbd" stroke="#545454" stroke-width="1.15"/>
<line x1="295.60" y1="722.40" x2="538.00" y2="722.40" stroke="#282828" stroke-width="1.35"/>
<line x1="345.00" y1="716.80" x2="345.00" y2="722.40" stroke="#282828" stroke-width="1.35"/>
<line x1="488.50" y1="716.80" x2="488.50" y2="722.40" stroke="#282828" stroke-width="1.35"/>
<line x1="599.50" y1="596.60" x2="608.10" y2="596.60" stroke="#545454" stroke-width="1.15"/>
<line x1="544.00" y1="716.80" x2="608.10" y2="716.80" stroke="#545454" stroke-width="1.15"/>
<line x1="608.10" y1="596.60" x2="608.10" y2="716.80" stroke="#545454" stroke-width="1.15"/>
<path d="M608.10 597.10 L606.50 606.10 L609.70 606.10 Z" fill="#9a9a9a" stroke="#3a3a3a" stroke-width="1.15" />
<path d="M608.10 716.30 L606.50 707.30 L609.70 707.30 Z" fill="#9a9a9a" stroke="#3a3a3a" stroke-width="1.15" />
<text x="602.7" y="661.11" font-size="14.0" text-anchor="middle" fill="#2a2a2a" stroke="#2a2a2a" stroke-width="0.3" font-weight="normal" transform="rotate(-90 602.7 656.1) translate(602.7 0) scale(0.96 1) translate(-602.7 0)">560</text>
<line x1="538.00" y1="722.60" x2="608.10" y2="722.60" stroke="#545454" stroke-width="1.15"/>
<line x1="608.10" y1="722.60" x2="608.10" y2="756.20" stroke="#545454" stroke-width="1.15"/>
<path d="M608.10 723.10 L606.50 732.10 L609.70 732.10 Z" fill="#9a9a9a" stroke="#3a3a3a" stroke-width="1.15" />
<text x="602.7" y="753.31" font-size="14.0" text-anchor="middle" fill="#2a2a2a" stroke="#2a2a2a" stroke-width="0.3" font-weight="normal" transform="rotate(-90 602.7 748.3) translate(602.7 0) scale(0.96 1) translate(-602.7 0)">25</text>
<rect x="729.60" y="394.00" width="181.00" height="129.10" rx="0" fill="none" stroke="#3a3a3a" stroke-width="1.15"/>
<text x="814" y="540.88" font-size="10" text-anchor="middle" fill="#2a2a2a" stroke="#2a2a2a" stroke-width="0.12" font-weight="normal">A</text>
<line x1="729.60" y1="439.20" x2="850.00" y2="439.20" stroke="#3a3a3a" stroke-width="1.15"/>
<line x1="729.60" y1="470.50" x2="832.00" y2="470.50" stroke="#3a3a3a" stroke-width="1.15"/>
<path d="M739.0 523.1 C768.4 488.1 796.9 437.2 850.0 439.2 C867 439.6 876.2 456 876.2 481.1 L869.7 481.1" fill="none" stroke="#282828" stroke-width="1.35" />
<path d="M745.0 523.1 C779.5 475.7 796.6 443.8 860.0 448.5 C867 450 871.6 460 871.6 481.1" fill="none" stroke="#3a3a3a" stroke-width="1.15" />
<line x1="798.20" y1="459.49" x2="801.80" y2="455.89" stroke="#444" stroke-width="0.90"/>
<line x1="802.40" y1="456.89" x2="806.00" y2="453.29" stroke="#444" stroke-width="0.90"/>
<line x1="806.60" y1="454.53" x2="810.20" y2="450.93" stroke="#444" stroke-width="0.90"/>
<line x1="810.80" y1="452.46" x2="814.40" y2="448.86" stroke="#444" stroke-width="0.90"/>
<line x1="815.00" y1="450.76" x2="818.60" y2="447.16" stroke="#444" stroke-width="0.90"/>
<line x1="819.20" y1="449.28" x2="822.80" y2="445.68" stroke="#444" stroke-width="0.90"/>
<line x1="823.40" y1="448.11" x2="827.00" y2="444.51" stroke="#444" stroke-width="0.90"/>
<line x1="827.60" y1="447.14" x2="831.20" y2="443.54" stroke="#444" stroke-width="0.90"/>
<line x1="831.80" y1="446.40" x2="835.40" y2="442.80" stroke="#444" stroke-width="0.90"/>
<line x1="836.00" y1="445.88" x2="839.60" y2="442.28" stroke="#444" stroke-width="0.90"/>
<line x1="840.20" y1="445.55" x2="843.80" y2="441.95" stroke="#444" stroke-width="0.90"/>
<line x1="844.40" y1="445.40" x2="848.00" y2="441.80" stroke="#444" stroke-width="0.90"/>
<line x1="848.60" y1="445.46" x2="852.20" y2="441.86" stroke="#444" stroke-width="0.90"/>
<line x1="852.80" y1="445.79" x2="856.40" y2="442.19" stroke="#444" stroke-width="0.90"/>
<line x1="857.00" y1="446.17" x2="860.60" y2="442.57" stroke="#444" stroke-width="0.90"/>
<line x1="861.20" y1="446.93" x2="864.80" y2="443.33" stroke="#444" stroke-width="0.90"/>
<line x1="865.40" y1="448.00" x2="869.00" y2="444.40" stroke="#444" stroke-width="0.90"/>
<line x1="865.95" y1="453.80" x2="869.55" y2="450.20" stroke="#444" stroke-width="0.90"/>
<line x1="868.13" y1="457.80" x2="871.73" y2="454.20" stroke="#444" stroke-width="0.90"/>
<line x1="869.56" y1="461.80" x2="873.16" y2="458.20" stroke="#444" stroke-width="0.90"/>
<line x1="870.56" y1="465.80" x2="874.16" y2="462.20" stroke="#444" stroke-width="0.90"/>
<line x1="871.26" y1="469.80" x2="874.86" y2="466.20" stroke="#444" stroke-width="0.90"/>
<line x1="871.71" y1="473.80" x2="875.31" y2="470.20" stroke="#444" stroke-width="0.90"/>
<line x1="871.98" y1="477.80" x2="875.58" y2="474.20" stroke="#444" stroke-width="0.90"/>
<rect x="832.00" y="449.30" width="32.00" height="31.20" rx="0" fill="#fff" stroke="#282828" stroke-width="1.35"/>
<path d="M834 462 L842 451.5" fill="none" stroke="#555" stroke-width="1.10" stroke-dasharray="5 2.2"/>
<path d="M834 476 L853 451.5" fill="none" stroke="#555" stroke-width="1.10" stroke-dasharray="5 2.2"/>
<path d="M841 479 L863 452" fill="none" stroke="#555" stroke-width="1.10" stroke-dasharray="5 2.2"/>
<path d="M851 479 L863 463.5" fill="none" stroke="#555" stroke-width="1.10" stroke-dasharray="5 2.2"/>
<line x1="795.00" y1="465.50" x2="832.00" y2="465.50" stroke="#3a3a3a" stroke-width="1.15"/>
<line x1="786.00" y1="477.50" x2="832.00" y2="477.50" stroke="#3a3a3a" stroke-width="1.15"/>
<line x1="783.00" y1="480.50" x2="832.00" y2="480.50" stroke="#3a3a3a" stroke-width="1.15"/>
<line x1="832.00" y1="481.00" x2="876.20" y2="481.00" stroke="#3a3a3a" stroke-width="1.15"/>
<line x1="863.50" y1="466.00" x2="871.60" y2="466.00" stroke="#545454" stroke-width="1.15"/>
<line x1="863.50" y1="470.50" x2="871.60" y2="470.50" stroke="#545454" stroke-width="1.15"/>
<path d="M829.4 523.1 L869.7 481.1" fill="none" stroke="#282828" stroke-width="1.35" />
<path d="M834.4 523.1 L872.8 483" fill="none" stroke="#282828" stroke-width="1.35" />
<line x1="832.97" y1="519.52" x2="835.37" y2="521.92" stroke="#666" stroke-width="0.70"/>
<line x1="837.30" y1="514.97" x2="839.70" y2="517.37" stroke="#666" stroke-width="0.70"/>
<line x1="841.63" y1="510.41" x2="844.03" y2="512.81" stroke="#666" stroke-width="0.70"/>
<line x1="845.97" y1="505.86" x2="848.37" y2="508.26" stroke="#666" stroke-width="0.70"/>
<line x1="850.30" y1="501.30" x2="852.70" y2="503.70" stroke="#666" stroke-width="0.70"/>
<line x1="854.63" y1="496.74" x2="857.03" y2="499.14" stroke="#666" stroke-width="0.70"/>
<line x1="858.97" y1="492.19" x2="861.37" y2="494.59" stroke="#666" stroke-width="0.70"/>
<line x1="863.30" y1="487.63" x2="865.70" y2="490.03" stroke="#666" stroke-width="0.70"/>
<line x1="867.63" y1="483.08" x2="870.03" y2="485.48" stroke="#666" stroke-width="0.70"/>
<path d="M812.1 601.8 L909.6 601.8 C930 603 937.5 618 935.6 630 C932 650 912 662 893.4 665.7 L791 665.7 C775 662 764 652 765.6 639.7 C767 622 785 605 812.1 601.8 Z" fill="none" stroke="#1e1e1e" stroke-width="1.55" />
<path d="M813.3 607.6 L904.6 607.6 C922 610 931 620 928.2 631 C925 645 915 655 903.3 659.5 L794 659.5 C782 657 773 650 773.6 642 C774 628 790 612 813.3 607.6 Z" fill="none" stroke="#3a3a3a" stroke-width="1.15" />
<line x1="794.00" y1="662.60" x2="890.00" y2="662.60" stroke="#545454" stroke-width="1.15"/>
<line x1="812.10" y1="601.80" x2="909.60" y2="601.80" stroke="#121212" stroke-width="1.70"/>
<line x1="791.00" y1="665.70" x2="893.40" y2="665.70" stroke="#121212" stroke-width="1.70"/>
<path d="M909.6 601.8 C930 603 937.5 618 935.6 630 C932 650 912 662 893.4 665.7" fill="none" stroke="#121212" stroke-width="1.70" />
<path d="M907 604.8 C926 606.5 934 619 932 630.5 C928.5 647.5 913.5 658.5 898 662.6" fill="none" stroke="#545454" stroke-width="1.15" />
<line x1="794.10" y1="659.50" x2="794.10" y2="665.70" stroke="#3a3a3a" stroke-width="1.15"/>
<line x1="887.20" y1="659.50" x2="887.20" y2="665.70" stroke="#3a3a3a" stroke-width="1.15"/>
<line x1="812.10" y1="601.80" x2="812.90" y2="607.60" stroke="#3a3a3a" stroke-width="1.15"/>
<line x1="904.60" y1="601.80" x2="904.60" y2="607.60" stroke="#3a3a3a" stroke-width="1.15"/>
<path d="M805.9 658.3 C808 648 818 639 833.8 636.6 L902.1 636.6 C910 637 917 641 919.5 644.6" fill="none" stroke="#3a3a3a" stroke-width="1.15" />
<path d="M814.6 658.9 C817 652 824 647 834.4 645.9 L903.3 645.9 C907 646 911 648 913.3 649.6" fill="none" stroke="#3a3a3a" stroke-width="1.15" />
<line x1="833.80" y1="636.60" x2="834.40" y2="645.90" stroke="#3a3a3a" stroke-width="1.15"/>
<line x1="902.10" y1="636.60" x2="903.30" y2="645.90" stroke="#545454" stroke-width="1.15"/>
<path d="M812.9 607.6 C820 615 828 625 833.8 636.6" fill="none" stroke="#3a3a3a" stroke-width="1.15" />
<path d="M904.6 607.6 C900 618 901 632 903.3 645.9" fill="none" stroke="#545454" stroke-width="1.15" />
<path d="M769.9 631 C785 637 798 647 805.9 658.3" fill="none" stroke="#3a3a3a" stroke-width="1.15" />
<path d="M776 631 C776 645 782 654 791 659.5" fill="none" stroke="#545454" stroke-width="1.15" />
<path d="M791 665.7 C803 673 812 683 819.6 689.5 C822 691.2 825 691.8 828.2 691.8 L899.6 691.8 C915 688 928 676 929.4 664.5 C929.8 658 927 652 924.4 649.6" fill="none" stroke="#3a3a3a" stroke-width="1.15" />
<path d="M801 665.7 C812 670 818 676 822 682 C824 686 826 690 828.2 691.8" fill="none" stroke="#3a3a3a" stroke-width="1.15" />
<path d="M887.2 665.7 C886.5 676 889 685 894.7 691.8" fill="none" stroke="#3a3a3a" stroke-width="1.15" />
<path d="M862.5 658.8 Q865 656.5 867.5 658.8 Z" fill="#222" stroke="#282828" stroke-width="1.35" />
<text x="869.5" y="724.66" font-size="18.2" text-anchor="middle" fill="#2a2a2a" stroke="#2a2a2a" stroke-width="0.55" font-weight="normal" transform="translate(869.5 0) scale(0.756 1) translate(-869.5 0)">PERSPECTIVE</text>
</g>
</svg>
</body></html>
